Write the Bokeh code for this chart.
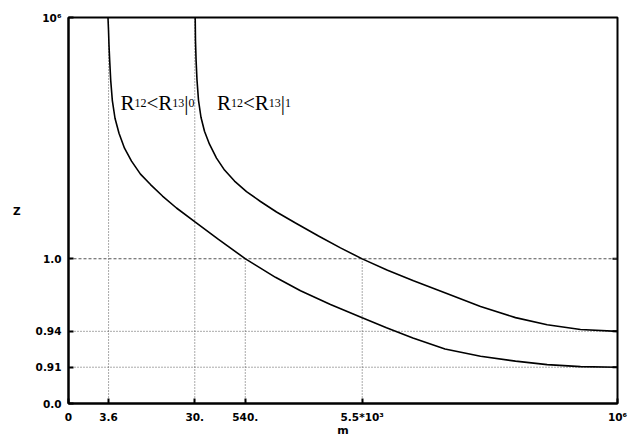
from bokeh.plotting import figure
from bokeh.models import Range1d, FixedTicker, Label
from bokeh.embed import file_html
from bokeh.resources import INLINE

# ---- data (axis units 0..1000 on the chart's non-uniform scale) ----
x_ticks = [0, 73, 230, 322, 535, 1000]
x_labels = ["0", "3.6", "30.", "540.", "5.5*10\u00b3", "10\u2076"]
y_ticks = [0, 94, 187, 375, 1000]
y_labels = ["0.0", "0.91", "0.94", "1.0", "10\u2076"]

# curve R12<R13|0
m0 = [71.9, 72.9, 73.8, 75.0, 76.9, 79.8, 84.7, 92.0, 102.0, 114.8, 131.1, 149.4,
      171.2, 196.7, 230.4, 273.2, 322.4, 377.0, 422.6, 477.2, 535.0, 579.2, 627.3,
      685.8, 750.5, 814.2, 871.9, 932.6, 1000.0]
z0 = [1000, 966.4, 927.6, 888.9, 837.2, 785.5, 739.0, 700.3, 661.5, 627.9, 594.3, 567.2,
      537.5, 506.5, 470.3, 425.1, 374.7, 326.9, 292.0, 256.3, 222.2, 196.4, 169.7,
      141.1, 122.2, 109.8, 100.8, 95.6, 93.8]
# curve R12<R13|1
m1 = [230.8, 231.3, 232.4, 234.1, 236.8, 241.3, 247.7, 256.8, 269.6, 284.2, 302.4, 324.2,
      349.7, 378.9, 413.5, 455.4, 495.4, 535.0, 581.1, 628.4, 686.7, 750.5, 814.2,
      871.9, 932.6, 1000.0]
z1 = [1000, 940.6, 888.9, 837.2, 785.5, 741.6, 705.4, 671.8, 635.7, 604.7, 576.2, 549.1,
      523.3, 496.1, 467.7, 434.1, 403.1, 374.7, 345.0, 317.8, 286.0, 251.4, 222.5,
      204.1, 191.7, 186.8]

label_names = ["R12<R13|0", "R12<R13|1"]
label_pos_x = [94.7, 270.5]
label_pos_y = [779, 779]

W, H = 635, 439
BL, BR, BT, BB = 68, 18, 17, 35
p = figure(width=W, height=H, output_backend="svg", toolbar_location=None,
           x_range=Range1d(0, 1000), y_range=Range1d(0, 1000),
           min_border_left=BL, min_border_right=BR, min_border_top=BT, min_border_bottom=BB)
p.xgrid.visible = False
p.ygrid.visible = False
p.outline_line_color = "black"
p.outline_line_width = 2
p.background_fill_color = "white"
p.border_fill_color = "white"

tick_font = "DejaVu Sans"

def style_axis(ax, ticks, labels):
    ax.ticker = FixedTicker(ticks=ticks)
    ax.major_label_overrides = dict(zip(ticks, labels))
    ax.major_label_text_font = tick_font
    ax.major_label_text_font_style = "bold"
    ax.major_label_text_font_size = "10.5px"
    ax.major_label_text_color = "black"
    ax.major_tick_in = 5
    ax.major_tick_out = 0
    ax.major_tick_line_width = 2
    ax.major_tick_line_color = "black"
    ax.minor_tick_line_color = None
    ax.axis_line_width = 2
    ax.axis_line_color = "black"
    ax.axis_label_text_font = tick_font
    ax.axis_label_text_font_style = "bold"
    ax.axis_label_text_color = "black"

xa = p.xaxis[0]
style_axis(xa, x_ticks, x_labels)
xa.major_label_standoff = 7
xa.axis_label = "m"
xa.axis_label_standoff = -2
xa.axis_label_text_font_size = "11px"

ya = p.yaxis[0]
style_axis(ya, y_ticks, y_labels)
ya.major_label_standoff = 7
ya.axis_label = "Z"
ya.axis_label_standoff = 12
ya.axis_label_text_font_size = "10.5px"
try:
    ya.axis_label_orientation = "horizontal"
except Exception:
    pass

# mirrored inward ticks on the right frame edge
tick_len = 5 * 1000.0 / (W - BL - BR)
inner = y_ticks[1:-1]
p.segment(x0=[x_ticks[-1] - tick_len] * len(inner), y0=inner,
          x1=[x_ticks[-1]] * len(inner), y1=inner, line_color="black", line_width=2)

# reference lines
p.segment(x0=[x_ticks[1], x_ticks[2], x_ticks[3], x_ticks[4]], y0=[0, 0, 0, 0],
          x1=[x_ticks[1], x_ticks[2], x_ticks[3], x_ticks[4]],
          y1=[y_ticks[-1], y_ticks[-1], y_ticks[3], y_ticks[3]],
          line_color="#555555", line_width=1, line_dash="1 2")
p.segment(x0=[0, 0], y0=[y_ticks[1], y_ticks[2]], x1=[x_ticks[-1], x_ticks[-1]],
          y1=[y_ticks[1], y_ticks[2]], line_color="#555555", line_width=1, line_dash="1 2")
p.segment(x0=[0], y0=[y_ticks[3]], x1=[x_ticks[-1]], y1=[y_ticks[3]],
          line_color="#555555", line_width=1, line_dash="3 2")

p.line(m0, z0, line_color="black", line_width=1.6)
p.line(m1, z1, line_color="black", line_width=1.6)

# region labels with subscripts
F, S = 21, 12
widths = {"R": 0.667, "<": 0.564, "|": 0.2}
for name, lx, ly in zip(label_names, label_pos_x, label_pos_y):
    sub_last = name.split("|")[1]
    parts = [("R", F), ("12", S), ("<", F), ("R", F), ("13", S), ("|", F), (sub_last, S)]
    off = 0.0
    for txt, size in parts:
        p.add_layout(Label(x=lx, y=ly, x_offset=off, text=txt, text_font="Liberation Serif",
                           text_font_size=f"{size}px", text_baseline="alphabetic",
                           text_align="left", text_color="black"))
        off += sum(widths.get(c, 0.5) for c in txt) * size

open("out.html", "w").write(file_html(p, INLINE))
